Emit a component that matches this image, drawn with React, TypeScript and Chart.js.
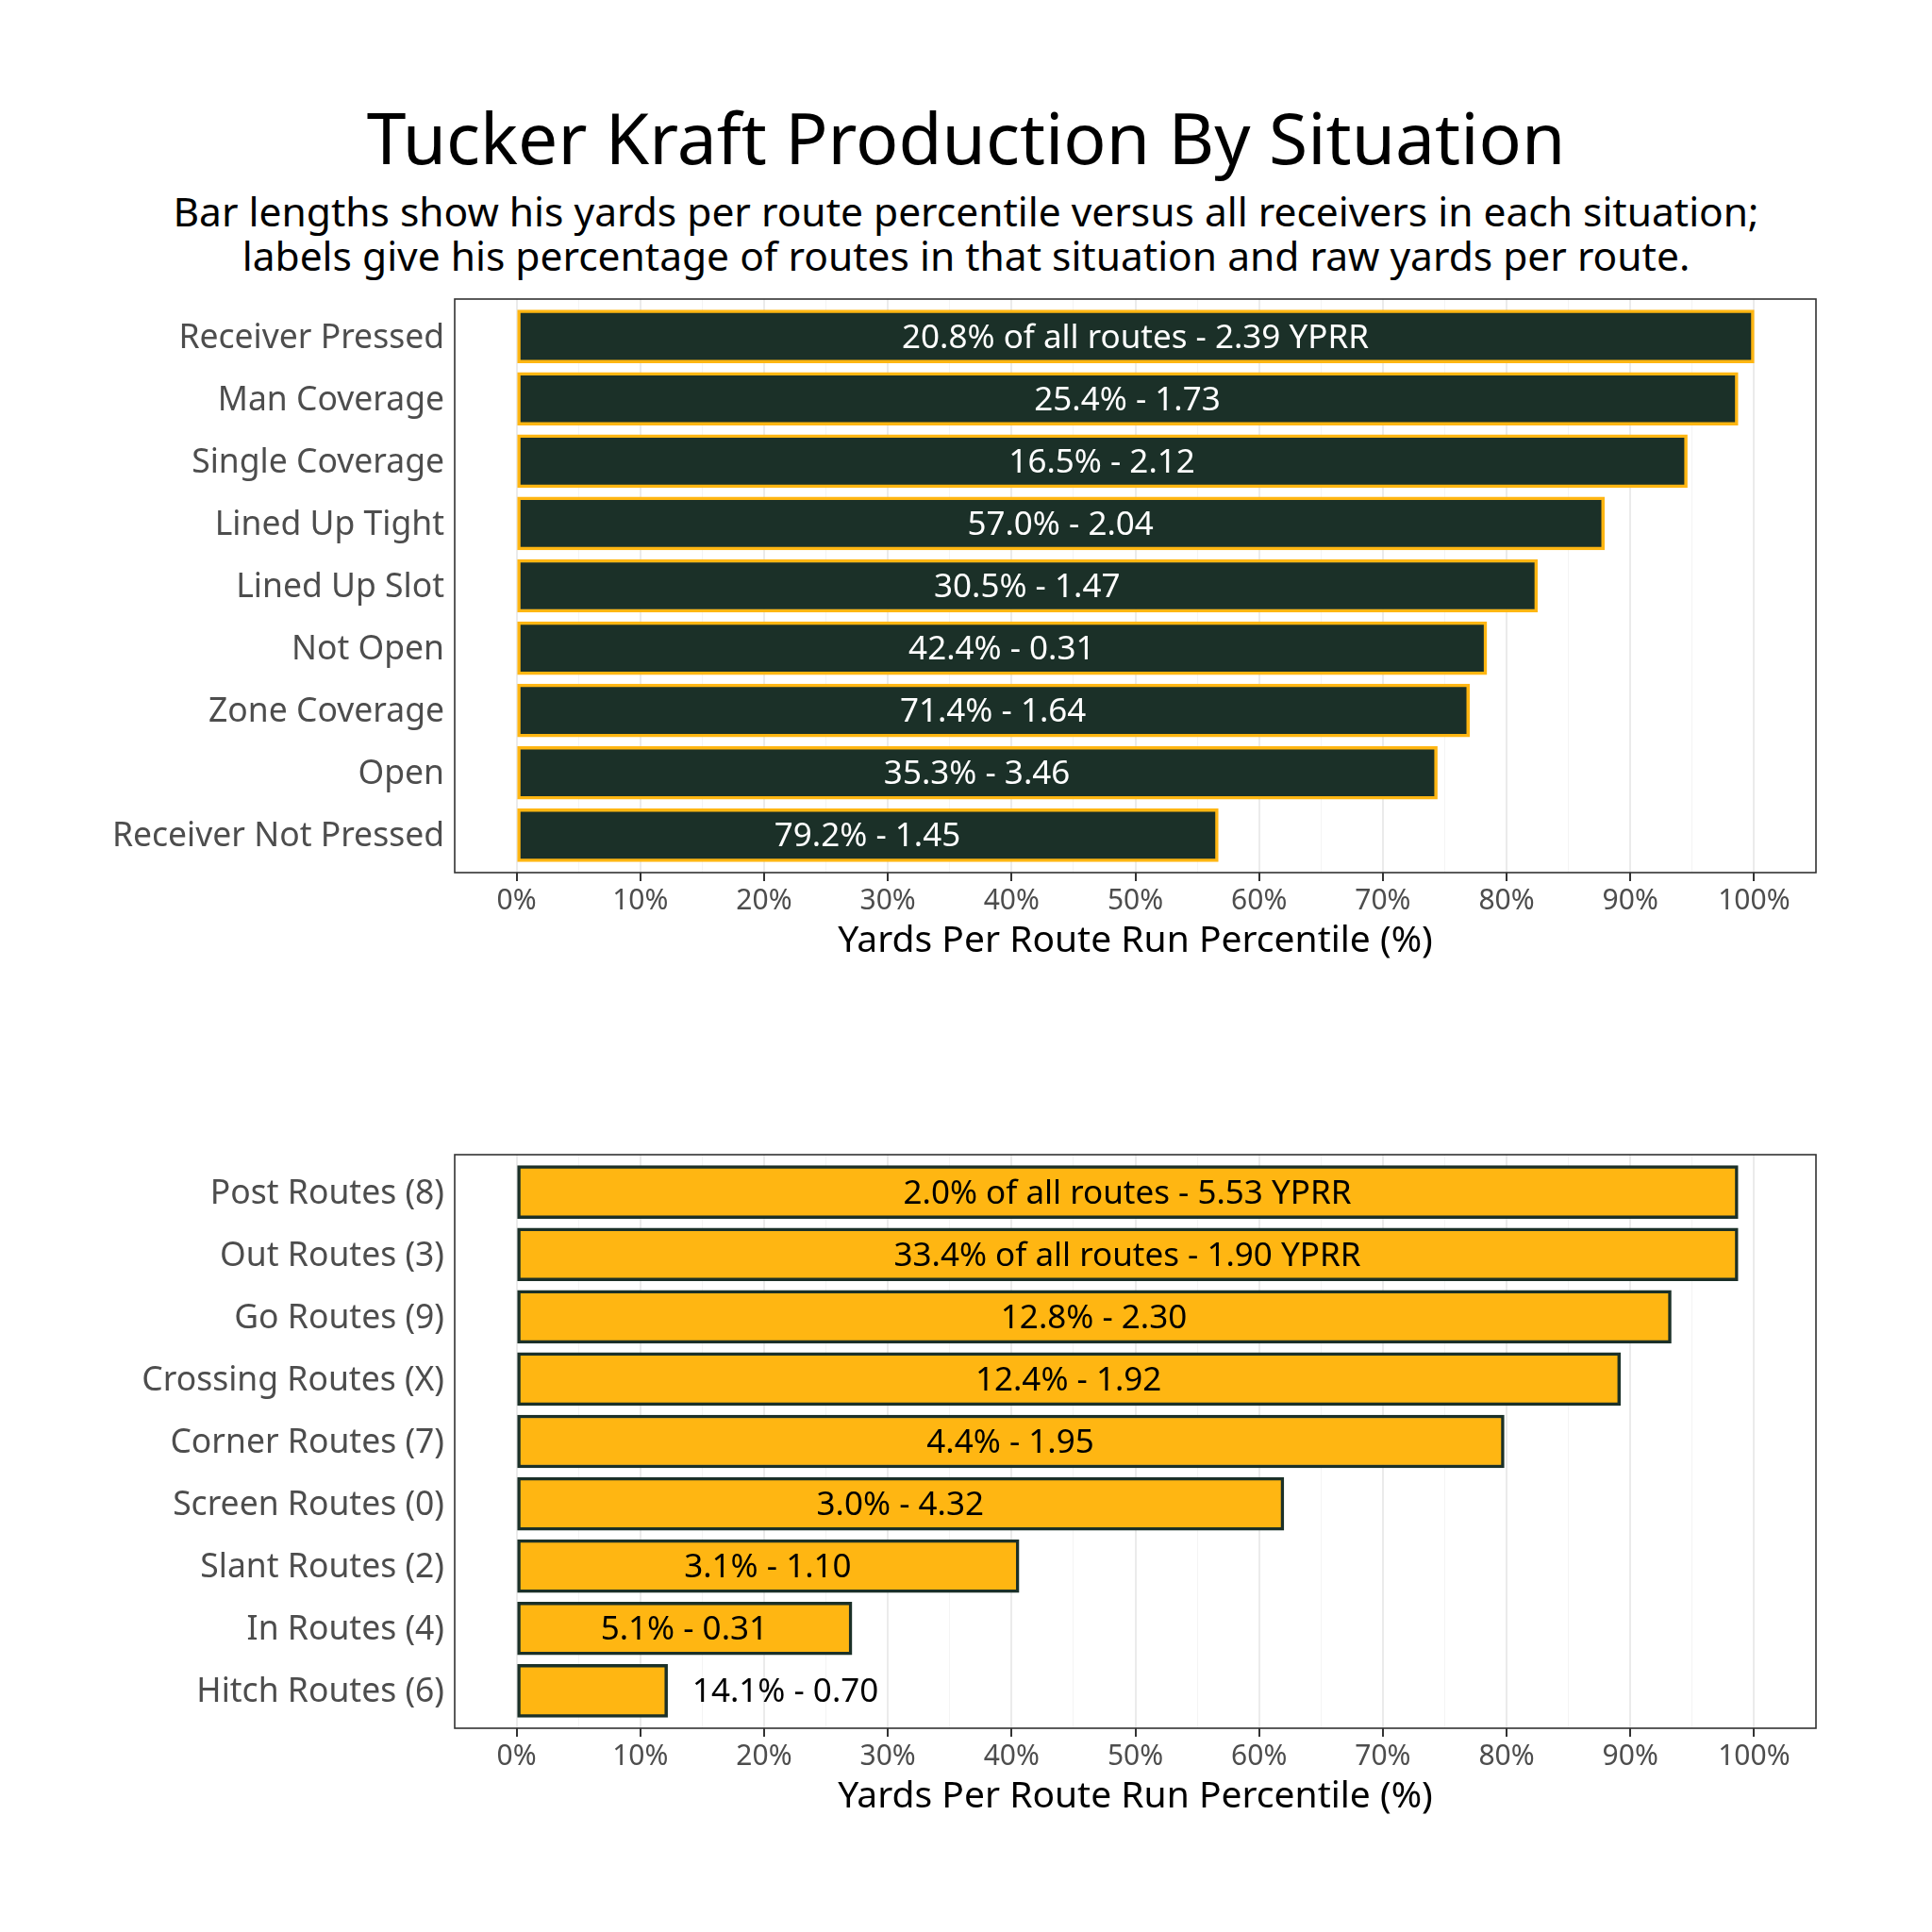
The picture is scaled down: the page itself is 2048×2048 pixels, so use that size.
import { useEffect, useRef } from "react";
import { Chart, registerables, ChartConfiguration, Plugin } from "chart.js";

Chart.register(...registerables);

const FONT = "'Noto Sans', sans-serif";

// situation panel (top)
const situationCategories = [
  "Receiver Pressed",
  "Man Coverage",
  "Single Coverage",
  "Lined Up Tight",
  "Lined Up Slot",
  "Not Open",
  "Zone Coverage",
  "Open",
  "Receiver Not Pressed",
];
const situationPercentile = [100, 98.7, 94.6, 87.9, 82.5, 78.4, 77.0, 74.4, 56.7];
const situationLabels = [
  "20.8% of all routes - 2.39 YPRR",
  "25.4% - 1.73",
  "16.5% - 2.12",
  "57.0% - 2.04",
  "30.5% - 1.47",
  "42.4% - 0.31",
  "71.4% - 1.64",
  "35.3% - 3.46",
  "79.2% - 1.45",
];

// route panel (bottom)
const routeCategories = [
  "Post Routes (8)",
  "Out Routes (3)",
  "Go Routes (9)",
  "Crossing Routes (X)",
  "Corner Routes (7)",
  "Screen Routes (0)",
  "Slant Routes (2)",
  "In Routes (4)",
  "Hitch Routes (6)",
];
const routePercentile = [98.7, 98.7, 93.3, 89.2, 79.8, 62.0, 40.6, 27.1, 12.2];
const routeLabels = [
  "2.0% of all routes - 5.53 YPRR",
  "33.4% of all routes - 1.90 YPRR",
  "12.8% - 2.30",
  "12.4% - 1.92",
  "4.4% - 1.95",
  "3.0% - 4.32",
  "3.1% - 1.10",
  "5.1% - 0.31",
  "14.1% - 0.70",
];

const xTickValues = [0, 10, 20, 30, 40, 50, 60, 70, 80, 90, 100];

const GREEN = "#1B3028";
const GOLD = "#FFB612";

interface PanelProps {
  categories: string[];
  values: number[];
  labels: string[];
  fill: string;
  border: string;
  textColor: string;
  top: number;
}

const BarPanel: React.FC<PanelProps> = ({ categories, values, labels, fill, border, textColor, top }) => {
  const canvasRef = useRef<HTMLCanvasElement | null>(null);

  useEffect(() => {
    if (!canvasRef.current) return;

    // full panel border, like theme_bw
    const panelBorder: Plugin<"bar"> = {
      id: "panelBorder",
      afterDraw(chart) {
        const { ctx, chartArea } = chart;
        ctx.save();
        ctx.strokeStyle = "#333333";
        ctx.lineWidth = 1.6;
        ctx.strokeRect(chartArea.left, chartArea.top, chartArea.right - chartArea.left, chartArea.bottom - chartArea.top);
        ctx.restore();
      },
    };

    // text on each bar
    const barText: Plugin<"bar"> = {
      id: "barText",
      afterDatasetsDraw(chart) {
        const { ctx } = chart;
        const xScale = chart.scales.x;
        const meta = chart.getDatasetMeta(0);
        ctx.save();
        ctx.font = `35px ${FONT}`;
        ctx.textBaseline = "middle";
        meta.data.forEach((bar, i) => {
          const v = values[i];
          if (v < 20) {
            ctx.fillStyle = "#000000";
            ctx.textAlign = "left";
            ctx.fillText(labels[i], xScale.getPixelForValue(v + 2), bar.y + 2);
          } else {
            ctx.fillStyle = textColor;
            ctx.textAlign = "center";
            ctx.fillText(labels[i], xScale.getPixelForValue(v / 2), bar.y + 2);
          }
        });
        ctx.restore();
      },
    };

    const isMajor = (v: number) => xTickValues.includes(v);

    const config: ChartConfiguration<"bar"> = {
      type: "bar",
      data: {
        datasets: [
          {
            data: values.map((v, i) => ({ x: v, y: i + 1 })),
            backgroundColor: fill,
            borderColor: border,
            borderWidth: 3.5,
            borderSkipped: false,
            barThickness: 56,
          },
        ],
      },
      options: {
        indexAxis: "y",
        animation: false,
        responsive: true,
        maintainAspectRatio: false,
        layout: { padding: { top: 17, right: 122, left: 0, bottom: 10 } },
        plugins: {
          legend: { display: false },
          tooltip: { enabled: false },
          title: { display: false },
        },
        scales: {
          x: {
            type: "linear",
            min: -5,
            max: 105,
            afterFit: (scale) => {
              scale.height = 96;
            },
            ticks: {
              stepSize: 5,
              autoSkip: false,
              maxRotation: 0,
              padding: 3,
              color: "#4D4D4D",
              font: { family: FONT, size: 30 },
              callback: (value) => (isMajor(Number(value)) ? `${value}%` : ""),
            },
            grid: {
              color: (c) => (c.tick && isMajor(c.tick.value) ? "#EBEBEB" : "#F4F4F4"),
              lineWidth: (c) => (c.tick && isMajor(c.tick.value) ? 2 : 1),
              tickColor: (c) => (c.tick && isMajor(c.tick.value) ? "#333333" : "rgba(0,0,0,0)"),
              tickWidth: 2,
              tickLength: 9,
            },
            border: { display: false },
            title: {
              display: true,
              text: "Yards Per Route Run Percentile (%)",
              color: "#000000",
              font: { family: FONT, size: 39 },
              padding: 0,
            },
          },
          y: {
            type: "linear",
            min: 0.4,
            max: 9.6,
            reverse: true,
            offset: false,
            afterBuildTicks: (scale) => {
              scale.ticks = categories.map((_, i) => ({ value: i + 1 }));
            },
            afterFit: (scale) => {
              scale.width = 483;
              scale.paddingTop = 0;
              scale.paddingBottom = 0;
            },
            ticks: {
              padding: 11,
              labelOffset: 2,
              color: "#4D4D4D",
              font: { family: FONT, size: 35.5 },
              callback: (value) => categories[Math.round(Number(value)) - 1] ?? "",
            },
            grid: { display: false, drawTicks: false, offset: false },
            border: { display: false },
          },
        },
      },
      plugins: [barText, panelBorder],
    };

    const chart = new Chart(canvasRef.current, config);
    return () => {
      chart.destroy();
    };
  }, [categories, values, labels, fill, border, textColor]);

  return (
    <div style={{ position: "absolute", left: -1, top, width: 2048, height: 731 }}>
      <canvas ref={canvasRef}></canvas>
    </div>
  );
};

const App: React.FC = () => {
  useEffect(() => {
    document.body.style.margin = "0";
  }, []);

  return (
    <div style={{ position: "relative", width: 2048, height: 2048, background: "#ffffff", fontFamily: FONT, overflow: "hidden" }}>
      <div
        style={{
          position: "absolute",
          top: 108,
          left: 0,
          width: 2048,
          textAlign: "center",
          fontSize: 75,
          lineHeight: "75px",
          color: "#000000",
        }}
      >
        Tucker Kraft Production By Situation
      </div>
      <div
        style={{
          position: "absolute",
          top: 200,
          left: 0,
          width: 2048,
          textAlign: "center",
          fontSize: 42.5,
          lineHeight: "47px",
          color: "#000000",
        }}
      >
        Bar lengths show his yards per route percentile versus all receivers in each situation;
        <br />
        labels give his percentage of routes in that situation and raw yards per route.
      </div>
      <BarPanel
        categories={situationCategories}
        values={situationPercentile}
        labels={situationLabels}
        fill={GREEN}
        border={GOLD}
        textColor="#FFFFFF"
        top={300}
      />
      <BarPanel
        categories={routeCategories}
        values={routePercentile}
        labels={routeLabels}
        fill={GOLD}
        border={GREEN}
        textColor="#000000"
        top={1207}
      />
    </div>
  );
};

export default App;
